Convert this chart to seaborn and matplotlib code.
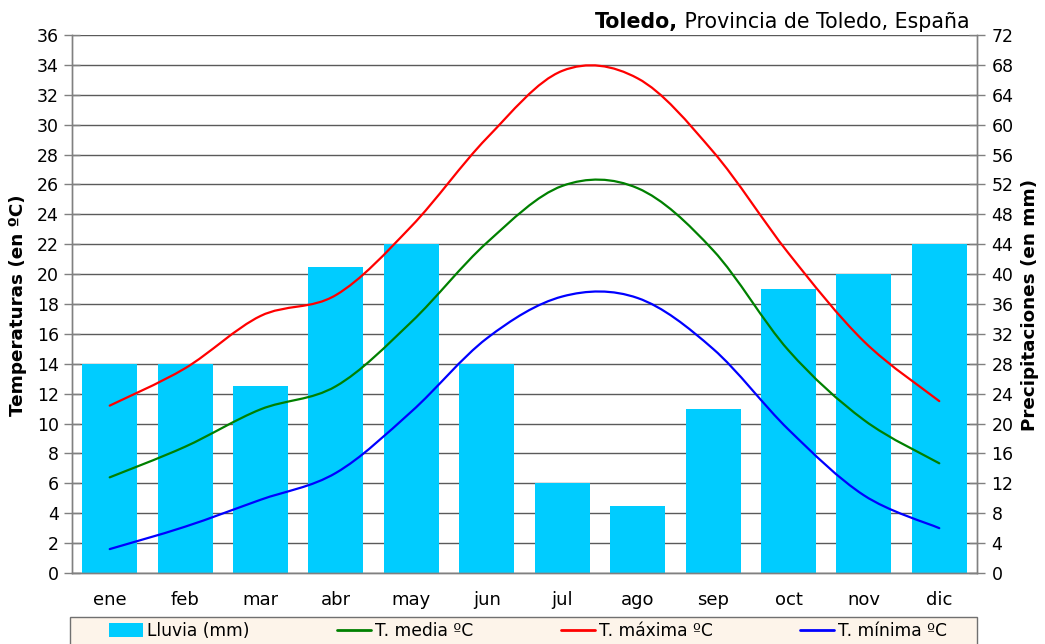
import numpy as np
import matplotlib
matplotlib.use("Agg")
import matplotlib.pyplot as plt
import seaborn as sns
from matplotlib.path import Path
from matplotlib.patches import PathPatch, Patch, Rectangle
from matplotlib.lines import Line2D

# ---------------- data ----------------
months = ["ene", "feb", "mar", "abr", "may", "jun", "jul", "ago", "sep", "oct", "nov", "dic"]
lluvia = [28, 28, 25, 41, 44, 28, 12, 9, 22, 38, 40, 44]
t_media = [6.4, 8.45, 10.95, 12.5, 16.8, 22.1, 25.9, 25.75, 21.6, 14.9, 10.24, 7.34]
t_maxima = [11.2, 13.7, 17.2, 18.6, 23.2, 29.1, 33.6, 33.1, 28.2, 21.4, 15.5, 11.5]
t_minima = [1.6, 3.1, 4.9, 6.7, 10.8, 15.7, 18.5, 18.4, 15.0, 9.6, 5.2, 3.0]
temp_ticks = list(range(0, 37, 2))
rain_ticks = list(range(0, 73, 4))
legend_labels = ["Lluvia (mm)", "T. media ºC", "T. máxima ºC", "T. mínima ºC"]

BAR_C = "#00CCFF"
RED, GREEN, BLUE = "#FF0000", "#008000", "#0000FF"
GRID_C = "#5a5a5a"
SPINE_C = "#808080"

sns.set_theme(style="white")
plt.rcParams["font.family"] = ["DejaVu Sans"]
plt.rcParams["text.color"] = "black"
plt.rcParams["xtick.color"] = "black"
plt.rcParams["ytick.color"] = "black"
plt.rcParams["axes.labelcolor"] = "black"

fig = plt.figure(figsize=(10.45, 6.44), dpi=100)
W, H = 1045, 644
ax = fig.add_axes([72 / W, 1 - 573 / H, (977 - 72) / W, (573 - 35) / H])
ax_r = ax.twinx()

# bars on the precipitation axis (behind)
sns.barplot(x=months, y=lluvia, ax=ax_r, color=BAR_C, saturation=1,
            width=0.73, edgecolor="none", linewidth=0, zorder=2)
ax_r.set_ylim(0, 72)
ax_r.set_yticks(rain_ticks)
ax_r.set_axisbelow(True)
ax_r.yaxis.grid(True, color=GRID_C, linewidth=1.0)
ax_r.xaxis.grid(False)
ax_r.set_ylabel("")

ax.set_zorder(ax_r.get_zorder() + 1)
ax.patch.set_visible(False)


def smooth_path(xs, ys):
    pts = np.column_stack([xs, ys]).astype(float)
    n = len(pts)
    verts = [pts[0]]
    codes = [Path.MOVETO]
    for i in range(n - 1):
        p0 = pts[i - 1] if i > 0 else pts[i]
        p1 = pts[i]
        p2 = pts[i + 1]
        p3 = pts[i + 2] if i + 2 < n else pts[i + 1]
        verts += [p1 + (p2 - p0) / 6.0, p2 - (p3 - p1) / 6.0, p2]
        codes += [Path.CURVE4] * 3
    return Path(verts, codes)


xpos = np.arange(len(months))
for series, col in [(t_maxima, RED), (t_media, GREEN), (t_minima, BLUE)]:
    ax.add_patch(PathPatch(smooth_path(xpos, series), facecolor="none",
                           edgecolor=col, linewidth=1.6, capstyle="round",
                           joinstyle="round", zorder=3))

ax.set_ylim(0, 36)
ax.set_yticks(temp_ticks)
ax.set_xlim(-0.5, 11.5)

# x ticks: labels at centres, tick marks at boundaries
ax.set_xticks(xpos)
ax.set_xticklabels(months)
ax.set_xticks(np.arange(-0.5, 12, 1), minor=True)
ax.tick_params(axis="x", which="major", length=0, pad=13, labelsize=13, labelcolor="black")
ax.tick_params(axis="x", which="minor", length=7, width=1, color=SPINE_C, direction="out")
ax_r.tick_params(axis="x", which="both", length=0, labelbottom=False)

ax.tick_params(axis="y", which="major", direction="inout", length=11, width=1,
               color=SPINE_C, labelsize=12.5, pad=4, labelcolor="black", left=True)
ax_r.tick_params(axis="y", which="major", direction="inout", length=11, width=1,
                 color=SPINE_C, labelsize=12.5, pad=5, labelcolor="black", right=True)

for a in (ax, ax_r):
    for s in a.spines.values():
        s.set_color(SPINE_C)
        s.set_linewidth(1.0)
    a.spines["top"].set_visible(False)

# axis titles
fig.text(18 / W, 1 - 305 / H, "Temperaturas (en ºC)", rotation=90, ha="center",
         va="center", fontsize=13.2, fontweight="bold")
fig.text(1030 / W, 1 - 305 / H, "Precipitaciones (en mm)", rotation=90, ha="center",
         va="center", fontsize=13.2, fontweight="bold")

# title: bold place name + normal remainder
fig.canvas.draw()
renderer = fig.canvas.get_renderer()
t_norm = fig.text(970 / W, 1 - 28 / H, " Provincia de Toledo, España", ha="right",
                  va="baseline", fontsize=14.8)
bb = t_norm.get_window_extent(renderer=renderer)
fig.text(bb.x0 / W, 1 - 28 / H, "Toledo,", ha="right", va="baseline",
         fontsize=14.8, fontweight="bold")

# legend frame (runs off the bottom edge as in the reference)
frame = Rectangle((70 / W, -0.05), (977 - 70) / W, (1 - 617 / H) + 0.05,
                  transform=fig.transFigure, facecolor="#FDF4EA",
                  edgecolor="#707070", linewidth=1.0, zorder=1)
fig.add_artist(frame)

handles = [Patch(facecolor=BAR_C, edgecolor="none"),
           Line2D([], [], color=GREEN, linewidth=2),
           Line2D([], [], color=RED, linewidth=2),
           Line2D([], [], color=BLUE, linewidth=2)]
leg = fig.legend(handles, legend_labels, ncol=4, loc="center",
                 bbox_to_anchor=(528 / W, 1 - 631 / H),
                 fontsize=12.3, frameon=False,
                 handlelength=2.0, handleheight=0.85, handletextpad=0.25,
                 columnspacing=5.1, borderpad=0.0, borderaxespad=0.0)
leg.set_zorder(2)

fig.savefig("out.png", dpi=100)
